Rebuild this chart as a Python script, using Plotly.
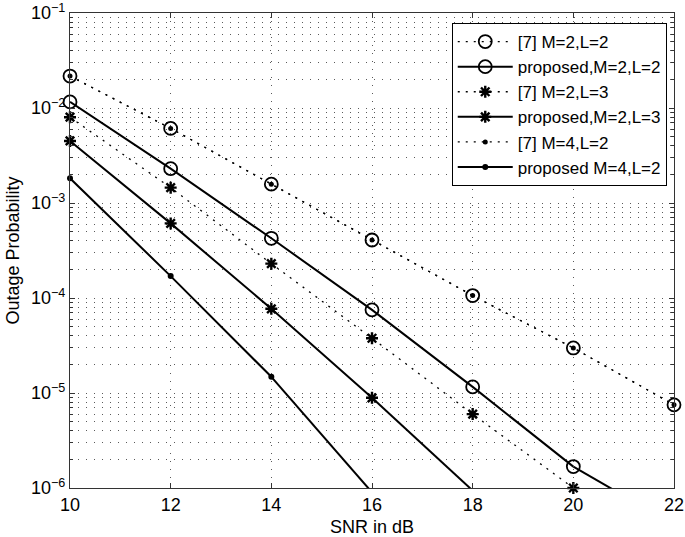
import plotly.graph_objects as go

# ---------------- data ----------------
snr_db = [10, 12, 14, 16, 18, 20, 22]

ref7_m2_l2 = [2.17e-2, 6.1e-3, 1.58e-3, 4.08e-4, 1.06e-4, 2.98e-5, 7.5e-6]
prop_m2_l2 = [1.16e-2, 2.3e-3, 4.25e-4, 7.5e-5, 1.16e-5, 1.68e-6, 4.1e-7]
ref7_m2_l3 = [8.0e-3, 1.45e-3, 2.3e-4, 3.77e-5, 6.0e-6, 1.0e-6]
prop_m2_l3 = [4.5e-3, 6.1e-4, 7.7e-5, 8.9e-6, 9.4e-7]
ref7_m4_l2 = [2.17e-2, 6.1e-3, 1.58e-3, 4.08e-4, 1.06e-4, 2.98e-5, 7.5e-6]
prop_m4_l2 = [1.82e-3, 1.7e-4, 1.48e-5, 9.0e-7]

x_ticks = [10, 12, 14, 16, 18, 20, 22]
y_ticks = [1e-6, 1e-5, 1e-4, 1e-3, 1e-2, 1e-1]
y_ticktext = ["10<sup>−6</sup>", "10<sup>−5</sup>", "10<sup>−4</sup>",
              "10<sup>−3</sup>", "10<sup>−2</sup>", "10<sup>−1</sup>"]

Y_MIN, Y_MAX = 1e-6, 1e-1
FONT = "Liberation Sans"

fig = go.Figure()

circle_m = dict(symbol="circle-open", size=13, line=dict(width=1.8, color="black"), color="black")
star_m = dict(symbol="asterisk-open", size=10, line=dict(width=2.4, color="black"), color="black")

series = [
    ("[7] M=2,L=2", ref7_m2_l2, "2px,6px", 1.3, circle_m),
    ("proposed,M=2,L=2", prop_m2_l2, "solid", 2.0, circle_m),
    ("[7] M=2,L=3", ref7_m2_l3, "2px,6px", 1.3, star_m),
    ("proposed,M=2,L=3", prop_m2_l3, "solid", 2.0, star_m),
    ("[7] M=4,L=2", ref7_m4_l2, "2px,6px", 1.3, dict(symbol="circle", size=5, color="black", line=dict(width=0))),
    ("proposed M=4,L=2", prop_m4_l2, "solid", 2.0, dict(symbol="circle", size=6, color="black", line=dict(width=0))),
]

for name, vals, dash, width, marker in series:
    xs = snr_db[:len(vals)]
    inside = [i for i, v in enumerate(vals) if v >= Y_MIN]
    last_in = inside[-1]
    fig.add_trace(go.Scatter(
        x=[xs[i] for i in inside], y=[vals[i] for i in inside],
        mode="lines+markers", name=name,
        line=dict(color="black", width=width, dash=dash),
        marker=marker, cliponaxis=False,
    ))
    if last_in < len(vals) - 1:
        fig.add_trace(go.Scatter(
            x=xs[last_in:], y=vals[last_in:], mode="lines", showlegend=False,
            line=dict(color="black", width=width, dash=dash), hoverinfo="skip",
        ))

minor_vals = [m * 10.0 ** e for e in range(-6, -1) for m in range(2, 10)]

grid_style = dict(showgrid=True, gridcolor="#5a5a5a", griddash="1px,7px", gridwidth=1)

fig.update_layout(
    template="none",
    width=685, height=537,
    margin=dict(l=70, r=11, t=13, b=49, autoexpand=False),
    paper_bgcolor="white", plot_bgcolor="white",
    font=dict(family=FONT, size=18, color="black"),
    showlegend=True,
    legend=dict(
        x=0.988, y=0.979, xanchor="right", yanchor="top",
        bgcolor="white", bordercolor="black", borderwidth=1,
        font=dict(family=FONT, size=17, color="black"),
        itemwidth=55, tracegroupgap=0,
    ),
    xaxis=dict(
        range=[10, 22], tickvals=x_ticks, ticktext=[str(v) for v in x_ticks],
        tickfont=dict(size=18),
        ticks="inside", ticklen=5, tickcolor="#333", tickwidth=1,
        showline=True, linecolor="#333", linewidth=1.2, mirror="ticks",
        zeroline=False, automargin=False,
        title=dict(text="SNR in dB", font=dict(size=18), standoff=6),
        **grid_style,
    ),
    yaxis=dict(
        type="log", range=[-6, -1], tickvals=y_ticks, ticktext=y_ticktext,
        tickfont=dict(size=18),
        ticks="inside", ticklen=5, tickcolor="#333", tickwidth=1,
        showline=True, linecolor="#333", linewidth=1.2, mirror="ticks",
        zeroline=False, automargin=False,
        title=dict(text="Outage Probability", font=dict(size=18), standoff=6),
        minor=dict(tickvals=minor_vals, ticks="inside", ticklen=3, tickcolor="#333",
                   showgrid=True, gridcolor="#5a5a5a", griddash="1px,7px", gridwidth=1),
        **grid_style,
    ),
)

fig.write_html(
    "out.html",
    config={"displayModeBar": False},
    post_script="document.body.style.margin='0';document.body.style.overflow='hidden';",
)
